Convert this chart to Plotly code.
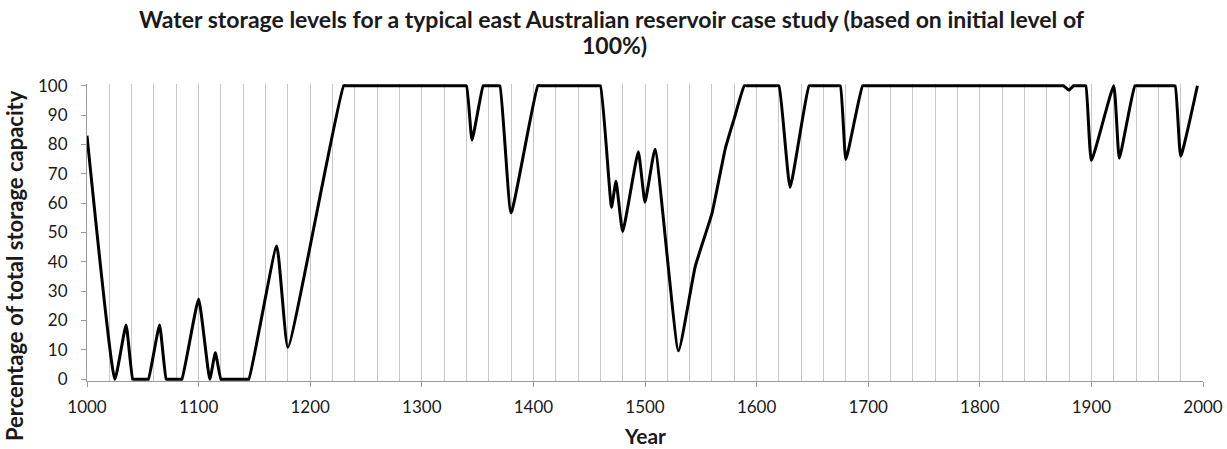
import plotly.graph_objects as go

# Storage level (% of capacity), by year
years = [1000, 1025, 1035, 1041, 1043, 1053, 1055, 1065, 1071, 1073, 1083, 1085,
         1100, 1110, 1115, 1120, 1122, 1143, 1145, 1170, 1180, 1230, 1233, 1337,
         1340, 1345, 1355, 1357, 1368, 1370, 1380, 1404, 1407, 1457, 1460, 1470,
         1474, 1480, 1494, 1500, 1509, 1530, 1545, 1560, 1572, 1580, 1589, 1592,
         1617, 1620, 1630, 1647, 1650, 1672, 1675, 1680, 1695, 1698, 1872, 1875,
         1880, 1884, 1886, 1893, 1895, 1900, 1920, 1925, 1939, 1942, 1972, 1975,
         1980, 1995]
levels = [83, 0, 18.5, 0, 0, 0, 0, 18.5, 0, 0, 0, 0,
          27.3, 0, 9, 0, 0, 0, 0, 45.4, 10.9, 100, 100, 100,
          100, 81.5, 100, 100, 100, 100, 56.7, 100, 100, 100, 100, 58.6,
          67.5, 50.3, 77.5, 60.3, 78.4, 9.7, 38.4, 56.5, 78.7, 88.9, 100, 100,
          100, 100, 65.4, 100, 100, 100, 100, 74.9, 100, 100, 100, 100,
          98.5, 100, 100, 100, 100, 74.5, 100, 75.3, 100, 100, 100, 100,
          76, 100]

x_ticks = [1000, 1100, 1200, 1300, 1400, 1500, 1600, 1700, 1800, 1900, 2000]
y_ticks = [0, 10, 20, 30, 40, 50, 60, 70, 80, 90, 100]

title_line1 = "Water storage levels for a typical east Australian reservoir case study (based on initial level of"
title_line2 = "100%)"

FONT = "Lato"
TXT = "#1a1a1a"
GRID = "#c8c8c8"
AX = "#9a9a9a"

fig = go.Figure()
fig.add_trace(go.Scatter(x=years, y=levels, mode="lines",
                         line=dict(color="black", width=3, shape="spline", smoothing=0.4),
                         showlegend=False, hoverinfo="skip"))

fig.update_layout(
    width=1227, height=449,
    margin=dict(l=87, r=24, t=84, b=68, autoexpand=False),
    paper_bgcolor="white", plot_bgcolor="white",
    font=dict(family=FONT, color=TXT),
    xaxis=dict(range=[1000, 2000], tickvals=x_ticks, ticktext=[str(v) for v in x_ticks],
               showgrid=True, gridcolor=GRID, gridwidth=1,
               minor=dict(dtick=20, tick0=1000, showgrid=True, gridcolor=GRID, gridwidth=1),
               ticks="outside", ticklen=5, tickcolor=AX,
               showline=True, linecolor=AX, linewidth=1,
               zeroline=False, tickfont=dict(size=17, color=TXT), ticklabelstandoff=6,
               automargin=False),
    yaxis=dict(range=[-0.6, 100.6], tickvals=y_ticks, showgrid=False, zeroline=False,
               showline=True, linecolor=AX, linewidth=1,
               ticks="outside", ticklen=5, tickcolor=AX,
               tickfont=dict(size=17, color=TXT), ticklabelstandoff=10,
               automargin=False),
)
fig.add_annotation(text="<b>" + title_line1 + "</b>", xref="paper", yref="paper",
                   x=0.47, y=1.219, xanchor="center", yanchor="middle", showarrow=False,
                   font=dict(size=23, color=TXT))
fig.add_annotation(text="<b>" + title_line2 + "</b>", xref="paper", yref="paper",
                   x=0.473, y=1.131, xanchor="center", yanchor="middle", showarrow=False,
                   font=dict(size=23, color=TXT))
fig.add_annotation(text="<b>Percentage of total storage capacity</b>", textangle=-90,
                   xref="paper", yref="paper", x=-0.0655, y=0.39, xanchor="center",
                   yanchor="middle", showarrow=False, font=dict(size=22, color=TXT))
fig.add_annotation(text="<b>Year</b>", xref="paper", yref="paper",
                   x=0.5, y=-0.185, xanchor="center", yanchor="middle", showarrow=False,
                   font=dict(size=21, color=TXT))

fig.write_html("out.html", config={"displayModeBar": False},
               post_script="document.body.style.margin='0';document.body.style.overflow='hidden';")
